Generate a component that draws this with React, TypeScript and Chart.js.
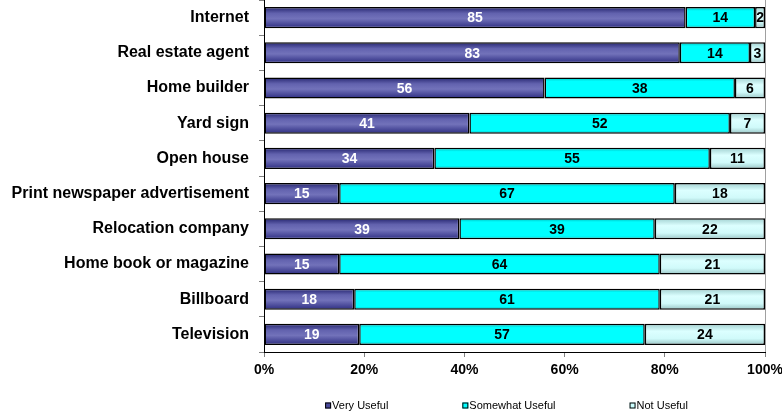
import React, { useEffect, useRef } from "react";
import { Chart, registerables } from "chart.js";
Chart.register(...registerables);

const categories = [
  "Internet",
  "Real estate agent",
  "Home builder",
  "Yard sign",
  "Open house",
  "Print newspaper advertisement",
  "Relocation company",
  "Home book or magazine",
  "Billboard",
  "Television",
];
const veryUseful = [85, 83, 56, 41, 34, 15, 39, 15, 18, 19];
const somewhatUseful = [14, 14, 38, 52, 55, 67, 39, 64, 61, 57];
const notUseful = [2, 3, 6, 7, 11, 18, 22, 21, 21, 24];
const seriesNames = ["Very Useful", "Somewhat Useful", "Not Useful"];
const xTickValues = [0, 20, 40, 60, 80, 100];

const FONT = "Arial, 'Liberation Sans', sans-serif";

const rawSeries = [veryUseful, somewhatUseful, notUseful];
const totals = categories.map((_, i) => rawSeries.reduce((s, arr) => s + arr[i], 0));
const pctSeries = rawSeries.map((arr) => arr.map((v, i) => (v / totals[i]) * 100));

const gradientStops: [number, string][][] = [
  [
    [0, "#24246e"],
    [0.3, "#6262ae"],
    [0.55, "#7272ba"],
    [1, "#2c2c80"],
  ],
  [
    [0, "#00b8b8"],
    [0.18, "#00ffff"],
    [0.85, "#00ffff"],
    [1, "#00b4b4"],
  ],
  [
    [0, "#a0d0d0"],
    [0.35, "#dcffff"],
    [0.7, "#d0fafa"],
    [1, "#98c4c4"],
  ],
];
const legendColors = ["#4a4a9c", "#00ffff", "#ccffff"];
const labelColors = ["#ffffff", "#000000", "#000000"];

function barGradient(stops: [number, string][]) {
  return (ctx: any) => {
    const chart = ctx.chart;
    const y = chart.scales && chart.scales.y;
    if (!y || ctx.dataIndex === undefined || !y.height) return stops[1][1];
    const center = y.getPixelForValue(ctx.dataIndex);
    const half = ((y.height / categories.length) * 0.6) / 2;
    const g = chart.ctx.createLinearGradient(0, center - half, 0, center + half);
    stops.forEach(([o, c]) => g.addColorStop(o, c));
    return g;
  };
}

const valueLabels = {
  id: "valueLabels",
  afterDatasetsDraw(chart: any) {
    const ctx = chart.ctx;
    ctx.save();
    ctx.font = `bold 14px ${FONT}`;
    ctx.textAlign = "center";
    ctx.textBaseline = "middle";
    chart.data.datasets.forEach((ds: any, di: number) => {
      const meta = chart.getDatasetMeta(di);
      meta.data.forEach((bar: any, i: number) => {
        const cx = (bar.x + bar.base) / 2;
        ctx.fillStyle = labelColors[di];
        ctx.fillText(String(rawSeries[di][i]), cx, bar.y + 1);
      });
    });
    ctx.restore();
  },
};

const customLegend = {
  id: "customLegend",
  afterDraw(chart: any) {
    const ctx = chart.ctx;
    const area = chart.chartArea;
    ctx.save();
    ctx.font = `11px ${FONT}`;
    ctx.textBaseline = "middle";
    ctx.textAlign = "left";
    const box = 6;
    const gapBoxText = 1;
    const gapItems = 74;
    const widths = seriesNames.map((n) => ctx.measureText(n).width);
    const total =
      widths.reduce((s, w) => s + w, 0) + seriesNames.length * (box + gapBoxText) + gapItems * (seriesNames.length - 1);
    let x = (area.left + area.right) / 2 - 8 - total / 2;
    const yc = 405.5;
    seriesNames.forEach((n, i) => {
      ctx.fillStyle = legendColors[i];
      ctx.fillRect(x, yc - box / 2, box, box);
      ctx.strokeStyle = "#000000";
      ctx.lineWidth = 1;
      ctx.strokeRect(x + 0.5, yc - box / 2 + 0.5, box - 1, box - 1);
      ctx.fillStyle = "#000000";
      ctx.fillText(n, x + box + gapBoxText, yc + 0.5);
      x += box + gapBoxText + widths[i] + gapItems;
    });
    ctx.restore();
  },
};

export default function App() {
  const ref = useRef<HTMLCanvasElement>(null);
  useEffect(() => {
    document.body.style.margin = "0";
    const canvas = ref.current;
    if (!canvas) return;
    const chart = new Chart(canvas, {
      type: "bar",
      data: {
        labels: categories,
        datasets: pctSeries.map((data, di) => ({
          label: seriesNames[di],
          data,
          backgroundColor: barGradient(gradientStops[di]),
          borderColor: "#000000",
          borderWidth: 1.5,
          borderSkipped: false,
          barPercentage: 0.6,
          categoryPercentage: 1,
        })),
      },
      options: {
        indexAxis: "y",
        responsive: false,
        animation: false,
        devicePixelRatio: 1,
        layout: { padding: { top: 0, right: 17, bottom: 35, left: 0 } },
        plugins: {
          legend: { display: false },
          tooltip: { enabled: false },
        },
        scales: {
          x: {
            stacked: true,
            min: 0,
            max: 100,
            afterBuildTicks: (scale: any) => {
              scale.ticks = xTickValues.map((v) => ({ value: v }));
            },
            afterFit: (scale: any) => {
              scale.height = 30;
              scale.paddingLeft = 0;
              scale.paddingRight = 0;
            },
            ticks: {
              callback: (v: any) => `${v}%`,
              font: { family: FONT, size: 14, weight: "bold" },
              color: "#000000",
              padding: 5,
              maxRotation: 0,
            },
            grid: {
              color: (c: any) => (c.tick && c.tick.value === 100 ? "#a0a0a0" : "rgba(0,0,0,0)"),
              tickColor: "#808080",
              tickLength: 5,
              lineWidth: 1,
            },
            border: { color: "#000000", width: 1 },
          },
          y: {
            stacked: true,
            afterFit: (scale: any) => {
              scale.width = 264;
              scale.paddingTop = 0;
              scale.paddingBottom = 0;
            },
            ticks: {
              font: { family: FONT, size: 16, weight: "bold" },
              color: "#000000",
              padding: 10,
            },
            grid: {
              drawOnChartArea: false,
              color: "#808080",
              tickLength: 5,
              offset: true,
            },
            border: { color: "#000000", width: 1 },
          },
        },
      },
      plugins: [valueLabels, customLegend],
    });
    return () => chart.destroy();
  }, []);
  return <canvas ref={ref} width={782} height={417} style={{ display: "block" }} />;
}
